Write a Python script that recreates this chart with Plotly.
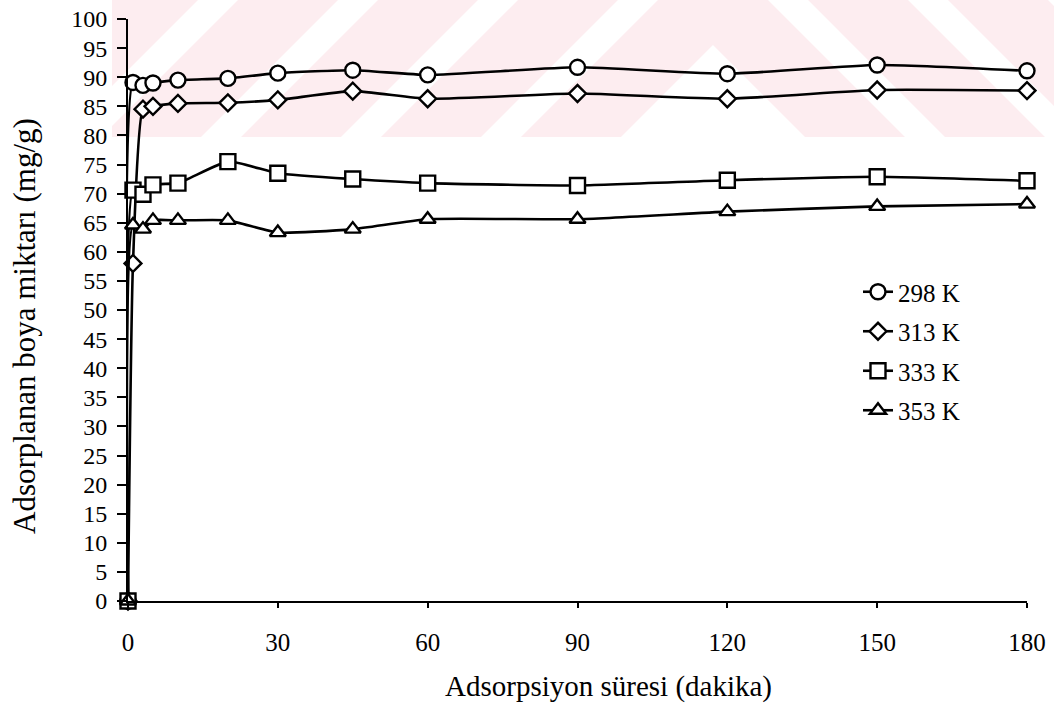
import plotly.graph_objects as go

# ---- data ----
time_min = [0, 1, 3, 5, 10, 20, 30, 45, 60, 90, 120, 150, 180]
q_298 = [0, 89.1, 88.6, 89.0, 89.5, 89.8, 90.7, 91.2, 90.4, 91.7, 90.6, 92.1, 91.1]
q_313 = [0, 58.0, 84.5, 85.0, 85.5, 85.6, 86.1, 87.6, 86.3, 87.2, 86.3, 87.8, 87.7]
q_333 = [0, 70.6, 69.9, 71.5, 71.8, 75.5, 73.5, 72.5, 71.8, 71.4, 72.3, 72.9, 72.2]
q_353 = [0, 64.6, 63.9, 65.4, 65.4, 65.4, 63.3, 63.9, 65.6, 65.6, 66.9, 67.8, 68.2]
series_names = ["298 K", "313 K", "333 K", "353 K"]
x_ticks = [0, 30, 60, 90, 120, 150, 180]
y_ticks = list(range(0, 101, 5))
x_title = "Adsorpsiyon süresi (dakika)"
y_title = "Adsorplanan boya miktarı (mg/g)"

W, H = 1054, 716
ML, MR, MT, MB = 128, 27, 19, 115
PW, PH = W - ML - MR, H - MT - MB

FONT = "Liberation Serif, Times New Roman, serif"


def pxx(px):
    return (px - ML) / PW


def pxy(py):
    return (H - MB - py) / PH


fig = go.Figure()

series = [q_298, q_313, q_333, q_353]
symbols = ["circle", "diamond", "square", "triangle-up"]
sizes = [15, 13, 15, 14]

for i, (name, vals, sym, sz) in enumerate(zip(series_names, series, symbols, sizes)):
    fig.add_trace(go.Scatter(
        x=time_min, y=vals, name=name, mode="lines+markers",
        legendgroup=f"g{i}",
        line=dict(color="black", width=2.6, shape="spline", smoothing=0.5),
        marker=dict(symbol=sym, size=sz, color="white",
                    line=dict(color="black", width=2.4)),
        cliponaxis=False,
    ))


# ---- faint background watermark (decoration), defined in page pixels ----
def clip_poly(poly, xmin, xmax, ymin, ymax):
    def clip(pts, inside, inter):
        out = []
        n = len(pts)
        for k in range(n):
            a, b = pts[k], pts[(k + 1) % n]
            ia, ib = inside(a), inside(b)
            if ia:
                out.append(a)
                if not ib:
                    out.append(inter(a, b))
            elif ib:
                out.append(inter(a, b))
        return out

    def ix(xc):
        return lambda a, b: (xc, a[1] + (b[1] - a[1]) * (xc - a[0]) / (b[0] - a[0]))

    def iy(yc):
        return lambda a, b: (a[0] + (b[0] - a[0]) * (yc - a[1]) / (b[1] - a[1]), yc)

    pts = poly
    for f in (lambda p: clip(p, lambda q: q[0] >= xmin, ix(xmin)),
              lambda p: clip(p, lambda q: q[0] <= xmax, ix(xmax)),
              lambda p: clip(p, lambda q: q[1] >= ymin, iy(ymin)),
              lambda p: clip(p, lambda q: q[1] <= ymax, iy(ymax))):
        if pts:
            pts = f(pts)
    return pts


cx, y0, band_w, period, ybot = 713, 45, 100, 140, 137
big = 700
for k in range(6):
    d0, d1 = k * period, k * period + band_w
    ya0, ya1 = y0 - d0, y0 - d1
    poly = [(cx, ya1), (cx + big, ya1 + big), (cx + big, ya0 + big), (cx, ya0),
            (cx - big, ya0 + big), (cx - big, ya1 + big)]
    pts = clip_poly(poly, 112, 1054, 0, ybot)
    if len(pts) >= 3:
        path = "M " + " L ".join(f"{pxx(a):.5f},{pxy(b):.5f}" for a, b in pts) + " Z"
        fig.add_shape(type="path", path=path, xref="paper", yref="paper",
                      fillcolor="#fdedf0", line=dict(width=0), layer="below")

# axis titles as annotations (positioned like the reference)
fig.add_annotation(text=x_title, xref="paper", yref="paper", x=pxx(608), y=pxy(686),
                   xanchor="center", yanchor="middle", showarrow=False,
                   font=dict(family=FONT, size=29, color="black"))
fig.add_annotation(text=y_title, xref="paper", yref="paper", x=pxx(24), y=pxy(326),
                   xanchor="center", yanchor="middle", showarrow=False, textangle=-90,
                   font=dict(family=FONT, size=31, color="black"))

fig.update_layout(
    width=W, height=H,
    margin=dict(l=ML, r=MR, t=MT, b=MB, autoexpand=False),
    paper_bgcolor="white", plot_bgcolor="rgba(0,0,0,0)",
    font=dict(family=FONT, size=25, color="black"),
    showlegend=True,
    legend=dict(x=pxx(858), y=pxy(269),
                xanchor="left", yanchor="top",
                bgcolor="rgba(0,0,0,0)", font=dict(family=FONT, size=25),
                tracegroupgap=4, itemwidth=30),
)
fig.update_xaxes(
    range=[0, 180], tickvals=x_ticks, ticktext=[str(v) for v in x_ticks],
    showgrid=False, zeroline=False, showline=True, linecolor="black", linewidth=2,
    ticks="outside", ticklen=5, tickwidth=2, tickcolor="black",
    ticklabelstandoff=13, ticklabeloverflow="allow",
    tickfont=dict(family=FONT, size=25),
)
fig.update_yaxes(
    range=[0, 100], tickvals=y_ticks, ticktext=[str(v) for v in y_ticks],
    showgrid=False, zeroline=False, showline=True, linecolor="black", linewidth=2,
    ticks="outside", ticklen=9, tickwidth=2, tickcolor="black",
    ticklabelstandoff=5, ticklabeloverflow="allow",
    tickfont=dict(family=FONT, size=24),
)

# remove the browser's default page margin so the figure fills the window exactly
fig.write_html("out.html", config={"displayModeBar": False},
               post_script="document.body.style.margin='0';")
